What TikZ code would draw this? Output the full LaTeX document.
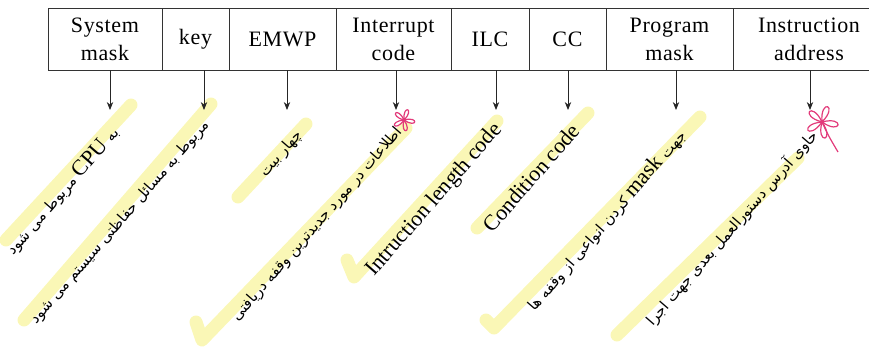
\documentclass[tikz,border=0pt]{standalone}
\usepackage{fontspec}
\setmainfont{Liberation Serif}
\newfontfamily\boxfont[LetterSpace=3]{Liberation Serif}
\newfontfamily\farsi[Script=Arabic]{DejaVu Sans}
\TeXXeTstate=1
\usetikzlibrary{arrows.meta}
\definecolor{hilite}{RGB}{250,247,182}
\definecolor{inkpink}{RGB}{226,58,122}
\newcommand\latin[1]{\beginL{\rmfamily\fontsize{11}{12}\selectfont #1}\endL{}}

\begin{document}
\begin{tikzpicture}[x=0.5pt,y=-0.5pt,
 field/.style={draw=black!80,thin,minimum height=31pt,inner sep=0pt,align=center,font=\boxfont\fontsize{11}{14}\selectfont},
 note/.style={rotate=49,anchor=east,inner sep=1pt,font=\farsi\fontsize{7.4}{9}\selectfont},
 eng/.style={rotate=49,anchor=east,inner sep=1pt,font=\fontsize{11}{12}\selectfont},
 hl/.style={hilite,line width=6.5pt,line cap=round,line join=round},
 petal/.style={inkpink,line width=0.6pt}]
\useasboundingbox (0,0) rectangle (869,354);
% yellow marker strokes
\draw[hl] (6,240)--(131,105);
\draw[hl] (24,320)--(211,104);
\draw[hl] (238,197)--(306,124);
\draw[hl] (196,322)--(202,340)--(406,128);
\draw[hl] (347,260)--(354,277)--(497,121);
\draw[hl] (477,228)--(588,113);
\draw[hl] (486,320)--(494,328)--(700,117);
\draw[hl] (617,335)--(798,158);
% fields of the word
\foreach \n/\l/\r/\t in {sm/48/162/{System\\mask},ky/162/229/key,em/229/336/EMWP,ic/336/451/{Interrupt\\code},
  il/451/529/ILC,cc/529/606/CC,pm/606/733/{Program\\mask},ia/733/885/{Instruction\\address}}
  \node[field,minimum width={(\r-\l)*0.5pt}] (\n) at ({(\l+\r)/2},39) {\t};
\foreach \n/\x in {sm/110,ky/204,em/287,ic/396,il/496,cc/568,pm/676,ia/810}{
  \coordinate (d\n) at (\x,110);
  \draw[-{Stealth[length=4pt,width=3.2pt]},black!85] (\n.south -| d\n) -- (d\n);
}
% notes under the arrows
\node[note] (tsm) at (117,128) {\beginR به \latin{CPU} مربوط می شود\endR};
\node[note] (tky) at (208,121) {\beginR مربوط به مسائل حفاظتی سیستم می شود\endR};
\node[note] (tem) at (301,131) {\beginR چهار بیت\endR};
\node[note] (tic) at (401,128) {\beginR اطلاعات در مورد جدیدترین وقفه دریافتی\endR};
\node[eng] (til) at (500,125) {Intruction length code};
\node[eng] (tcc) at (577,125) {Condition code};
\node[note] (tpm) at (684,131) {\beginR جهت \latin{mask} کردن انواعی از وقفه ها\endR};
\node[note] (tia) at (816,131) {\beginR حاوی آدرس دستورالعمل بعدی جهت اجرا\endR};
% pink scribbles
\coordinate (s1) at (404,120);\coordinate (s2) at (822,122);
\foreach \a in {10,80,150,220,290}{
  \draw[petal] (s1) .. controls +(\a-25:16) and +(\a+25:16) .. (s1);
  \draw[petal] (s2) .. controls +(\a-25:24) and +(\a+25:24) .. (s2);
}
\draw[petal] (s2) .. controls (828,135) .. (838,152);
\end{tikzpicture}
\end{document}
